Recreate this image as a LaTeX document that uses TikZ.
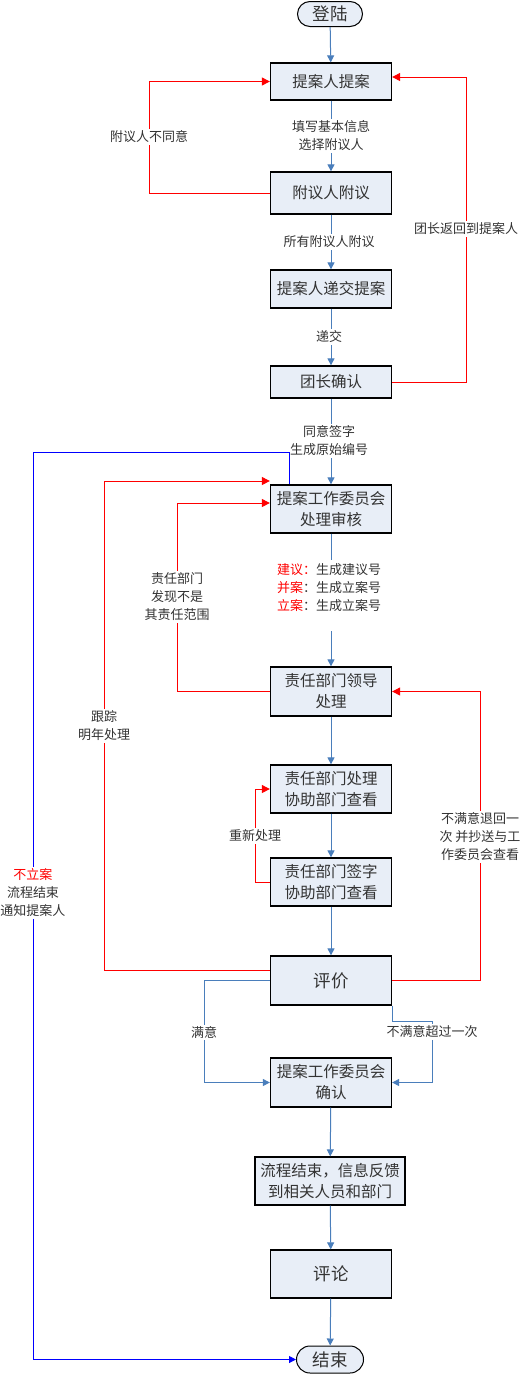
\documentclass[tikz,border=0pt]{standalone}
\usepackage{fontspec}
\setmainfont{Noto Sans CJK SC}
\usetikzlibrary{arrows.meta,calc}
\definecolor{boxfill}{HTML}{E8EEF7}
\definecolor{flowc}{HTML}{4A7EBB}
\definecolor{txtc}{HTML}{333333}
\definecolor{redc}{HTML}{FF0000}
\definecolor{bluec}{HTML}{0000FF}
\tikzset{
  box/.style={draw=black, line width=1.3pt, fill=boxfill, minimum width=121pt, inner sep=0pt,
    align=center, text=txtc, font=\fontsize{15.5}{21}\selectfont},
  bigbox/.style={box, font=\fontsize{17.5}{21}\selectfont},
  term/.style={draw=black, line width=1pt, fill=boxfill, rounded corners=12.5pt, inner sep=0pt,
    text=txtc, font=\fontsize{17.5}{21}\selectfont},
  lbl/.style={fill=white, inner sep=1.5pt, align=center, text=txtc, font=\fontsize{13}{18}\selectfont},
  flow/.style={draw=flowc, line width=1pt, -{Triangle[width=7pt,length=7pt]}},
  flowline/.style={draw=flowc, line width=1pt},
  back/.style={draw=redc, line width=1pt, -{Triangle[width=8pt,length=8pt]}},
  quit/.style={draw=bluec, line width=1pt, -{Triangle[width=7pt,length=7pt]}},
}
\begin{document}
\begin{tikzpicture}[x=1pt,y=-1pt]
\useasboundingbox (0,0) rectangle (524,1374);
% nodes
\node[term, minimum width=65pt, minimum height=25pt] (start) at (330,14) {登陆};
\node[box, minimum height=37pt] (n1) at (331,81.5) {提案人提案};
\node[box, minimum height=42pt] (n2) at (331,193) {附议人附议};
\node[box, minimum height=38pt] (n3) at (331,289) {提案人递交提案};
\node[box, minimum height=32pt] (n4) at (331,382) {团长确认};
\node[box, minimum height=48pt] (n5) at (331,509) {提案工作委员会\\处理审核};
\node[box, minimum height=49pt] (n6) at (331,691.5) {责任部门领导\\处理};
\node[box, minimum height=48pt] (n7) at (331,789) {责任部门处理\\协助部门查看};
\node[box, minimum height=48pt] (n8) at (331,882) {责任部门签字\\协助部门查看};
\node[bigbox, minimum height=49pt] (n9) at (331,980.5) {评价};
\node[box, minimum height=49pt] (n10) at (331,1082.5) {提案工作委员会\\确认};
\node[box, minimum width=150pt, minimum height=48pt] (n11) at (330,1181) {流程结束，信息反馈\\到相关人员和部门};
\node[bigbox, minimum height=48pt] (n12) at (331,1274) {评论};
\node[term, minimum width=67pt, minimum height=27pt, rounded corners=13.5pt] (end) at (330,1359.5) {结束};

% helper coordinates
\coordinate (xL1) at (149,0);
\coordinate (xR1) at (466,0);
\coordinate (bx) at (289,452);
\coordinate (bl) at (33,452);
\coordinate (xL5) at (177,0);
\coordinate (xL9) at (104,0);
\coordinate (xL8) at (255,0);
\coordinate (xR9) at (480,0);
\coordinate (xL10) at (204,0);
\coordinate (r2) at (432,1021);
\coordinate (g1) at (331,560);
\coordinate (g2) at (331,631);

% main flow
\draw[flow] (start) -- (n1);
\draw[flow] (n1) -- (n2);
\node[lbl] (t1) at (331,136) {填写基本信息\\选择附议人};
\draw[flow] (n2) -- (n3);
\node[lbl] (t2) at (329,242) {所有附议人附议};
\draw[flow] (n3) -- (n4);
\node[lbl] (t3) at (329,337) {递交};
\draw[flow] (n4) -- (n5);
\node[lbl] (t4) at (329,441) {同意签字\\生成原始编号};
\draw[flowline] (n5.south) -- (g1);
\draw[flow] (g2) -- (n6.north);
\node[lbl, align=left, fill=none] (t5) at (329,588) {{\color{redc}建议：}生成建议号\\{\color{redc}并案}：生成立案号\\{\color{redc}立案}：生成立案号};
\draw[flow] (n6) -- (n7);
\draw[flow] (n7) -- (n8);
\draw[flow] (n8) -- (n9);
\draw[flow] (n10) -- (n11);
\draw[flow] (n11) -- (n12);
\draw[flow] (n12) -- (end);

% red loops
\draw[back] (n2.west) -- (n2.west -| xL1) |- (n1.west);
\node[lbl] (t6) at (149,137) {附议人不同意};
\draw[back] (n4.east) -- (n4.east -| xR1) |- ([yshift=4.5pt]n1.east);
\node[lbl] (t7) at (466,229) {团长返回到提案人};
\draw[back] (n6.west) -- (n6.west -| xL5) |- ([yshift=6pt]n5.west);
\node[lbl] (t8) at (177,597) {责任部门\\发现不是\\其责任范围};
\draw[back] ([yshift=10.5pt]n9.west) -- ([yshift=10.5pt]n9.west -| xL9) |- ([yshift=28pt]n5.west);
\node[lbl] (t9) at (104,726) {跟踪\\明年处理};
\draw[back] (n8.west) -- (n8.west -| xL8) |- (n7.west);
\node[lbl] (t10) at (255,836) {重新处理};
\draw[back] (n9.east) -- (n9.east -| xR9) |- (n6.east);
\node[lbl] (t11) at (480,837) {不满意退回一\\次 并抄送与工\\作委员会查看};

% evaluation outcomes
\draw[flow] (n9.west) -- (n9.west -| xL10) |- (n10.west);
\node[lbl] (t12) at (204,1032) {满意};
\draw[flow] (n9.south east) |- (r2) |- (n10.east);
\node[lbl] (t13) at (432,1032) {不满意超过一次};

% blue exit
\draw[quit] (bx |- n5.north) -- (bx) -- (bl) |- (end.west);
\node[lbl] (t14) at (33,893) {{\color{redc}不立案}\\流程结束\\通知提案人};
\end{tikzpicture}
\end{document}
